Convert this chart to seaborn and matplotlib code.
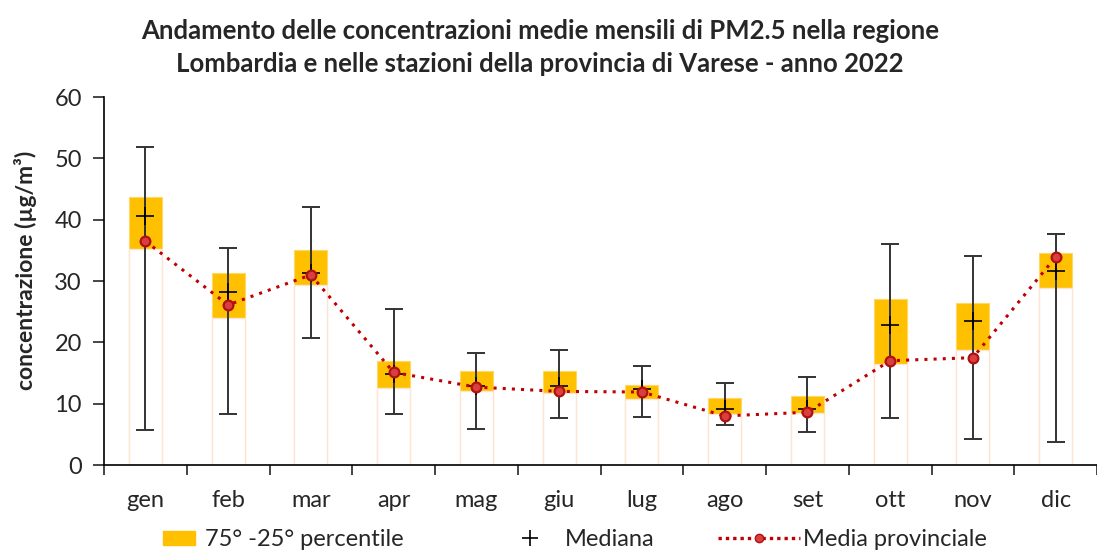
import numpy as np
import pandas as pd
import matplotlib
matplotlib.use("Agg")
import matplotlib.pyplot as plt
import seaborn as sns
from matplotlib.patches import Patch
from matplotlib.lines import Line2D

mesi = ["gen", "feb", "mar", "apr", "mag", "giu", "lug", "ago", "set", "ott", "nov", "dic"]
p25 = [35.2, 24.0, 29.3, 12.6, 12.0, 11.8, 10.7, 8.3, 8.4, 16.5, 18.8, 28.8]
p75 = [43.7, 31.3, 35.1, 16.9, 15.3, 15.3, 13.1, 10.9, 11.3, 27.0, 26.4, 34.5]
minimo = [5.7, 8.3, 20.7, 8.3, 5.9, 7.7, 7.9, 6.6, 5.3, 7.7, 4.3, 3.7]
massimo = [51.9, 35.3, 42.0, 25.4, 18.3, 18.8, 16.1, 13.4, 14.3, 36.0, 34.0, 37.7]
mediana = [40.6, 28.2, 31.3, 14.8, 12.8, 12.8, 12.4, 9.2, 9.1, 22.9, 23.4, 31.7]
media = [36.5, 26.1, 31.0, 15.1, 12.7, 12.0, 11.9, 8.0, 8.6, 17.0, 17.5, 33.9]

df = pd.DataFrame({"mese": mesi, "p25": p25, "p75": p75, "min": minimo,
                   "max": massimo, "mediana": mediana, "media": media})

sns.set_theme(style="white")
plt.rcParams["font.family"] = ["Lato", "DejaVu Sans"]

fig = plt.figure(figsize=(10.97, 5.5), dpi=100)
ax = fig.add_axes([104 / 1097, 85 / 550, 993 / 1097, 368 / 550])

orange = "#FFC000"
x = np.arange(len(mesi))

# stacked bars: orange up to 75th percentile, white (faint edge) up to 25th
sns.barplot(data=df, x="mese", y="p75", color=orange, width=0.4, saturation=1,
            edgecolor="#FFD966", linewidth=0.8, ax=ax, zorder=2)
sns.barplot(data=df, x="mese", y="p25", color="white", width=0.4, saturation=1,
            edgecolor="#FCE4D6", linewidth=1.0, ax=ax, zorder=2)

# whiskers min-max
med = df["mediana"].to_numpy()
ax.errorbar(x, med, yerr=[med - df["min"], df["max"] - med], fmt="none",
            ecolor="#333333", elinewidth=1.4, capsize=6.5, capthick=1.4, zorder=3)
ax.plot(x, med, linestyle="none", marker="+", markersize=13, mew=1.2,
        color="black", zorder=4)

# media provinciale
sns.lineplot(x=x, y=df["media"], ax=ax, color="#C00000", linestyle=(0, (1, 2.0)),
             linewidth=2.2, marker="o", markersize=7, markerfacecolor="#D84040",
             markeredgecolor="#B01010", markeredgewidth=1.6, zorder=5)

ax.set_ylim(0, 60)
ax.set_xlim(-0.5, 11.42)
ax.set_yticks(range(0, 61, 10))
ax.set_xticks(x)
ax.set_xticklabels(mesi, fontsize=17)
ax.tick_params(axis="y", labelsize=17, length=8, width=1.2, direction="out",
               left=True, pad=8)
ax.tick_params(axis="x", which="major", length=0, pad=18)
ax.set_xticks(np.arange(-0.5, 11.6, 1.0), minor=True)
ax.tick_params(axis="x", which="minor", length=7, width=1.2, direction="out", bottom=True)
ax.set_xlabel("")
ax.set_ylabel("concentrazione (µg/m³)", fontsize=16.5, fontweight="bold")
ax.yaxis.set_label_coords(-0.067, 0.53)
for s in ["top", "right"]:
    ax.spines[s].set_visible(False)
for s in ["left", "bottom"]:
    ax.spines[s].set_color("black")
    ax.spines[s].set_linewidth(1.2)

fig.suptitle("Andamento delle concentrazioni medie mensili di PM2.5 nella regione\n"
             "Lombardia e nelle stazioni della provincia di Varese - anno 2022",
             x=0.492, y=0.965, fontsize=18.5, fontweight="bold", linespacing=1.45)

# legend: three separate entries placed like the original
leg_y = 10 / 550
leg_kw = dict(loc="center left", frameon=False, fontsize=17, borderpad=0,
              borderaxespad=0)
fig.legend([Patch(facecolor=orange, edgecolor=orange)], ["75° -25° percentile"],
           bbox_to_anchor=(163 / 1097, leg_y), handlelength=1.36, handleheight=0.5,
           handletextpad=0.42, **leg_kw)
fig.legend([Line2D([], [], linestyle="none", marker="+", markersize=12, mew=1.2,
                   color="black")], ["Mediana"],
           bbox_to_anchor=(506 / 1097, leg_y), handlelength=2.0, handletextpad=0.5,
           **leg_kw)
fig.legend([Line2D([], [], color="#C00000", linestyle=(0, (1, 1.2)), linewidth=2.4,
                   marker="o", markersize=6, markerfacecolor="#D84040",
                   markeredgecolor="#B01010")], ["Media provinciale"],
           bbox_to_anchor=(718 / 1097, leg_y), handlelength=3.47, handletextpad=0.12,
           **leg_kw)

fig.savefig("out.png", dpi=100)
